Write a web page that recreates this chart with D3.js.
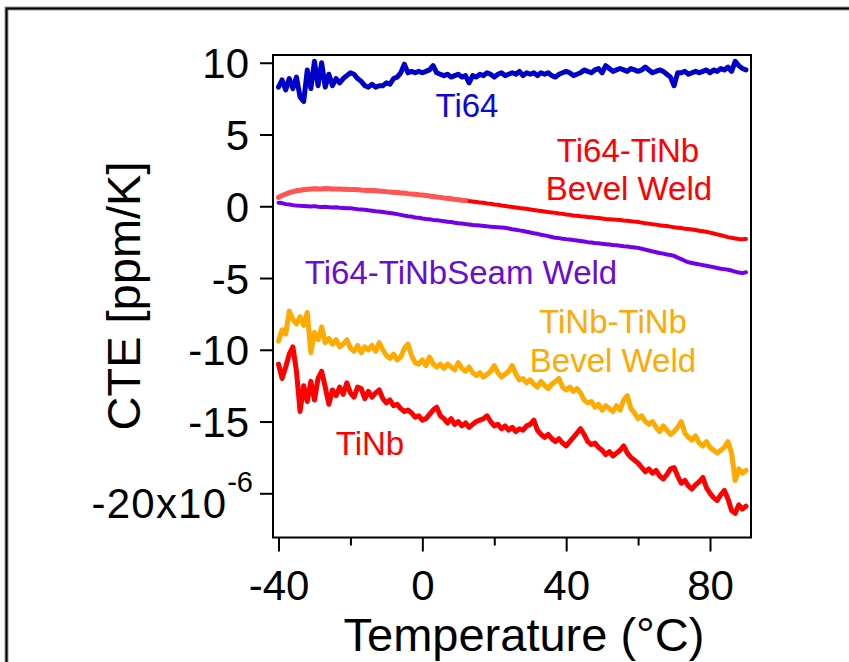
<!DOCTYPE html>
<html>
<head>
<meta charset="utf-8">
<script src="https://cdn.jsdelivr.net/npm/d3@7"></script>
<style>
html,body{margin:0;padding:0;background:#fff;}
svg{display:block;font-family:"Liberation Sans",Arial,sans-serif;}
</style>
</head>
<body>
<svg id="chart" width="849" height="662"></svg>
<script>
// Temperature (°C), shared by all series
const temps = [
-40,-39,-38,-37,-36,-35,-34,-33,-32,-31,
-30,-29,-28,-27,-26,-25,-24,-23,-22,-21,
-20,-19,-18,-17,-16,-15,-14,-13,-12,-11,
-10,-9,-8,-7,-6,-5,-4,-3,-2,-1,
0,1,2,3,4,5,6,7,8,9,
10,11,12,13,14,15,16,17,18,19,
20,21,22,23,24,25,26,27,28,29,
30,31,32,33,34,35,36,37,38,39,
40,41,42,43,44,45,46,47,48,49,
50,51,52,53,54,55,56,57,58,59,
60,61,62,63,64,65,66,67,68,69,
70,71,72,73,74,75,76,77,78,79,
80,81,82,83,84,85,86,87,88,89,
90];

// CTE values (ppm/K)
const ti64 = [
8.3,8.8,8.1,8.9,8.2,9.0,7.6,7.3,9.5,8.2,
10.1,8.4,10.0,8.3,9.2,8.4,8.9,8.6,8.9,9.1,
9.3,9.2,8.9,8.7,8.4,8.3,8.5,8.3,8.4,8.4,
8.6,8.5,8.9,9.0,9.3,9.9,9.3,9.4,9.3,9.4,
9.3,9.4,9.5,9.8,9.3,9.2,9.1,9.2,9.0,9.1,
9.2,9.0,9.1,8.6,9.1,9.0,9.2,9.1,9.3,9.2,
9.0,9.2,9.3,9.1,9.2,9.3,9.2,9.4,9.1,9.3,
9.2,9.3,9.1,9.3,9.2,9.3,9.1,9.0,9.2,9.3,
9.4,9.3,9.1,9.2,9.3,9.5,9.4,9.3,9.5,9.6,
9.3,9.8,9.6,9.4,9.5,9.6,9.5,9.4,9.6,9.5,
9.4,9.5,9.7,9.5,9.3,9.4,9.5,9.4,9.2,9.0,
8.4,9.3,9.3,9.4,9.2,9.3,9.4,9.3,9.4,9.5,
9.3,9.5,9.4,9.6,9.5,9.7,9.4,10.1,9.8,9.6,
9.5];

const ti64TiNbBevel = [
0.62,0.75,0.85,0.95,1.02,1.08,1.12,1.15,1.18,1.20,
1.22,1.20,1.21,1.23,1.22,1.20,1.21,1.20,1.19,1.18,
1.16,1.17,1.15,1.13,1.12,1.10,1.10,1.08,1.06,1.05,
1.02,1.00,0.98,0.96,0.93,0.92,0.88,0.85,0.83,0.80,
0.78,0.75,0.72,0.68,0.65,0.62,0.58,0.56,0.52,0.48,
0.46,0.42,0.40,0.36,0.33,0.30,0.27,0.24,0.20,0.17,
0.13,0.10,0.05,0.02,-0.02,-0.05,-0.08,-0.12,-0.15,-0.18,
-0.22,-0.26,-0.30,-0.33,-0.36,-0.40,-0.43,-0.46,-0.50,-0.53,
-0.57,-0.60,-0.64,-0.66,-0.70,-0.72,-0.75,-0.77,-0.80,-0.82,
-0.85,-0.88,-0.90,-0.92,-0.94,-0.96,-0.99,-1.01,-1.04,-1.07,
-1.10,-1.14,-1.18,-1.21,-1.25,-1.28,-1.32,-1.35,-1.38,-1.42,
-1.46,-1.49,-1.52,-1.56,-1.59,-1.62,-1.66,-1.70,-1.74,-1.78,
-1.84,-1.90,-1.96,-2.02,-2.08,-2.15,-2.20,-2.24,-2.28,-2.30,
-2.28];

const ti64TiNbSeam = [
0.25,0.22,0.15,0.12,0.08,0.05,0.03,0.02,0.00,-0.02,
0.01,-0.03,-0.05,-0.04,-0.06,-0.08,-0.07,-0.10,-0.12,-0.14,
-0.13,-0.17,-0.20,-0.22,-0.24,-0.28,-0.31,-0.35,-0.36,-0.40,
-0.44,-0.47,-0.50,-0.55,-0.60,-0.65,-0.70,-0.72,-0.78,-0.80,
-0.85,-0.88,-0.90,-0.95,-0.97,-1.00,-1.04,-1.08,-1.10,-1.15,
-1.18,-1.20,-1.24,-1.27,-1.30,-1.32,-1.34,-1.37,-1.40,-1.42,
-1.44,-1.46,-1.48,-1.50,-1.55,-1.60,-1.64,-1.68,-1.72,-1.78,
-1.83,-1.88,-1.92,-1.98,-2.03,-2.08,-2.14,-2.20,-2.22,-2.26,
-2.29,-2.31,-2.35,-2.38,-2.42,-2.46,-2.50,-2.52,-2.56,-2.58,
-2.62,-2.64,-2.67,-2.70,-2.72,-2.75,-2.78,-2.80,-2.84,-2.87,
-2.90,-2.96,-3.02,-3.08,-3.14,-3.20,-3.26,-3.30,-3.36,-3.40,
-3.46,-3.58,-3.68,-3.80,-3.90,-3.95,-4.00,-4.05,-4.10,-4.15,
-4.20,-4.24,-4.30,-4.35,-4.38,-4.42,-4.48,-4.55,-4.62,-4.66,
-4.60];

const tinbTiNbBevel = [
-9.4,-8.6,-8.9,-7.3,-7.9,-8.2,-7.7,-8.3,-7.4,-10.2,
-8.8,-9.3,-8.4,-9.5,-9.2,-9.6,-9.3,-9.8,-9.6,-9.3,
-9.9,-10.1,-9.7,-10.2,-9.8,-10.0,-9.7,-10.1,-9.5,-10.0,
-10.4,-10.6,-10.3,-10.7,-10.5,-9.9,-9.6,-10.4,-10.9,-11.0,
-10.7,-11.1,-10.5,-11.0,-11.2,-11.0,-11.3,-11.0,-11.2,-11.4,
-10.9,-11.3,-11.5,-11.2,-11.6,-11.8,-11.6,-11.9,-11.7,-11.5,
-11.1,-11.6,-11.9,-11.7,-11.5,-11.1,-11.7,-12.1,-12.0,-12.3,
-12.1,-12.4,-12.6,-12.2,-12.5,-12.7,-12.4,-12.2,-12.0,-12.6,
-12.8,-12.6,-12.9,-12.7,-13.0,-13.5,-13.7,-13.6,-14.0,-13.8,
-14.2,-13.9,-14.1,-14.3,-13.9,-14.2,-13.5,-13.2,-14.1,-14.4,
-14.8,-14.6,-15.0,-15.2,-15.0,-15.4,-15.7,-15.3,-15.6,-15.9,
-15.7,-15.4,-15.0,-15.8,-16.1,-16.3,-16.0,-16.5,-16.7,-16.4,
-16.8,-17.0,-17.2,-17.0,-16.8,-16.4,-17.2,-19.1,-18.3,-18.6,
-18.4];

const tinb = [
-11.0,-12.0,-11.2,-10.3,-9.8,-11.5,-14.3,-12.5,-13.6,-12.2,
-13.5,-12.0,-11.5,-12.6,-13.8,-12.8,-13.2,-12.6,-13.1,-12.3,
-13.0,-13.3,-12.6,-12.7,-13.4,-12.9,-13.3,-13.0,-12.8,-13.4,
-13.7,-13.5,-13.9,-13.8,-14.1,-14.3,-14.2,-14.4,-14.7,-14.6,
-14.9,-14.8,-14.5,-14.2,-14.0,-14.6,-14.8,-15.1,-14.8,-15.2,
-15.0,-15.3,-15.1,-15.4,-15.2,-15.0,-14.9,-14.8,-14.6,-15.0,
-15.3,-15.2,-15.5,-15.3,-15.6,-15.4,-15.7,-15.5,-15.6,-15.3,
-15.2,-14.9,-15.6,-15.9,-16.1,-15.9,-16.2,-16.4,-16.2,-16.5,
-16.7,-16.4,-16.1,-15.8,-15.5,-15.9,-16.4,-16.6,-16.5,-16.8,
-17.0,-17.3,-17.1,-17.4,-17.2,-17.0,-16.7,-17.2,-17.5,-17.7,
-17.9,-18.2,-18.5,-18.3,-18.6,-18.4,-18.8,-19.0,-18.7,-18.3,
-18.2,-18.8,-19.3,-19.1,-19.5,-19.7,-19.4,-19.2,-18.9,-19.6,
-20.0,-20.3,-20.5,-20.1,-19.8,-20.4,-21.2,-21.4,-20.8,-21.1,
-20.9];

const xMajorTicks = [-40, 0, 40, 80];
const xMinorTicks = [-20, 20, 60];
const xTickLabels = ["-40", "0", "40", "80"];
const yTicks = [10, 5, 0, -5, -10, -15, -20];
const yTickLabels = ["10", "5", "0", "-5", "-10", "-15", "-20x10"];

const svg = d3.select("#chart");
const L = 273, R = 751, T = 55, B = 537.5;

const x = d3.scaleLinear().domain([-41.53, 91.4]).range([L, R]);
const y = d3.scaleLinear().domain([-23.08, 10.54]).range([B, T]);

// outer figure frame
svg.append("rect").attr("x", 6.5).attr("y", 8.5).attr("width", 900).attr("height", 700)
  .attr("fill", "none").attr("stroke", "#999").attr("stroke-width", 4);
svg.append("rect").attr("x", 6.5).attr("y", 8.5).attr("width", 900).attr("height", 700)
  .attr("fill", "none").attr("stroke", "#000").attr("stroke-width", 2);

const series = [
  {vals: ti64, color: "#0000c8", w: 5},
  {vals: ti64TiNbBevel, color: "#ff0000", w: 4},
  {vals: ti64TiNbSeam, color: "#7200e8", w: 4},
  {vals: tinbTiNbBevel, color: "#ffaa00", w: 5},
  {vals: tinb, color: "#ff0000", w: 5}
];

const line = d3.line().x(d => x(d[0])).y(d => y(d[1]));
const plot = svg.append("g");
series.forEach(s => {
  const pts = temps.map((t, i) => [t, s.vals[i]]);
  plot.append("path").attr("d", line(pts)).attr("fill", "none")
    .attr("stroke", s.color).attr("stroke-width", s.w)
    .attr("stroke-linejoin", "round").attr("stroke-linecap", "round");
});
// lighter overlapping segment of the bevel-weld trace at low temperature
const bevelLow = temps.map((t, i) => [t, ti64TiNbBevel[i]]).filter(d => d[0] <= 12);
plot.append("path").attr("d", line(bevelLow)).attr("fill", "none")
  .attr("stroke", "#ff5555").attr("stroke-width", 5)
  .attr("stroke-linejoin", "round").attr("stroke-linecap", "round");

// plot frame
svg.append("rect").attr("x", L).attr("y", T).attr("width", R - L).attr("height", B - T)
  .attr("fill", "none").attr("stroke", "#000").attr("stroke-width", 2);

// x axis ticks
const xMajor = svg.append("g").attr("transform", `translate(0,${B})`)
  .call(d3.axisBottom(x).tickValues(xMajorTicks).tickSize(14).tickFormat((d, i) => xTickLabels[i]));
const xMinor = svg.append("g").attr("transform", `translate(0,${B})`)
  .call(d3.axisBottom(x).tickValues(xMinorTicks).tickSize(8).tickFormat(""));
[xMajor, xMinor].forEach(g => {
  g.select(".domain").remove();
  g.selectAll(".tick line").attr("stroke", "#000").attr("stroke-width", 2);
});
xMajor.selectAll(".tick text").attr("y", 0).attr("dy", null)
  .attr("transform", "translate(0,62.5)")
  .style("font-size", "42px").style("font-family", "'Liberation Sans', Arial, sans-serif")
  .attr("fill", "#000");

// y axis ticks
const yAx = svg.append("g").attr("transform", `translate(${L},0)`)
  .call(d3.axisLeft(y).tickValues(yTicks).tickSize(13).tickFormat((d, i) => yTickLabels[i]));
yAx.select(".domain").remove();
yAx.selectAll(".tick line").attr("stroke", "#000").attr("stroke-width", 2);
yAx.selectAll(".tick text").attr("x", -24).attr("dy", null).attr("y", 15)
  .style("font-size", "42px").style("font-family", "'Liberation Sans', Arial, sans-serif")
  .attr("fill", "#000");
// exponent label on last tick
yAx.selectAll(".tick text").filter(d => d === -20).each(function() {
  const t = d3.select(this);
  t.text("").attr("x", -20).attr("y", 24);
  t.append("tspan").text("-20x10").style("letter-spacing", "1.2px");
  t.append("tspan").text("-6").attr("dy", -26).style("font-size", "29px");
});

// axis titles
svg.append("text").attr("x", 524).attr("y", 651).attr("text-anchor", "middle")
  .style("font-size", "47px").text("Temperature (°C)");
svg.append("text").attr("transform", "translate(140,296) rotate(-90)").attr("text-anchor", "middle")
  .style("font-size", "47px").text("CTE [ppm/K]");

// in-plot labels
const labels = [
  {t: "Ti64", x: 467, y: 117, c: "#0a0ad8"},
  {t: "Ti64-TiNb", x: 628, y: 162, c: "#ff0000"},
  {t: "Bevel Weld", x: 629, y: 200, c: "#ff0000"},
  {t: "Ti64-TiNbSeam Weld", x: 461, y: 284, c: "#6a0cd2"},
  {t: "TiNb-TiNb", x: 613, y: 333, c: "#ffaa00"},
  {t: "Bevel Weld", x: 613, y: 372, c: "#ffaa00"},
  {t: "TiNb", x: 370, y: 455, c: "#ff0000"}
];
labels.forEach(l => {
  svg.append("text").attr("x", l.x).attr("y", l.y).attr("text-anchor", "middle")
    .style("font-size", "33px").attr("fill", l.c).text(l.t);
});
</script>
</body>
</html>
